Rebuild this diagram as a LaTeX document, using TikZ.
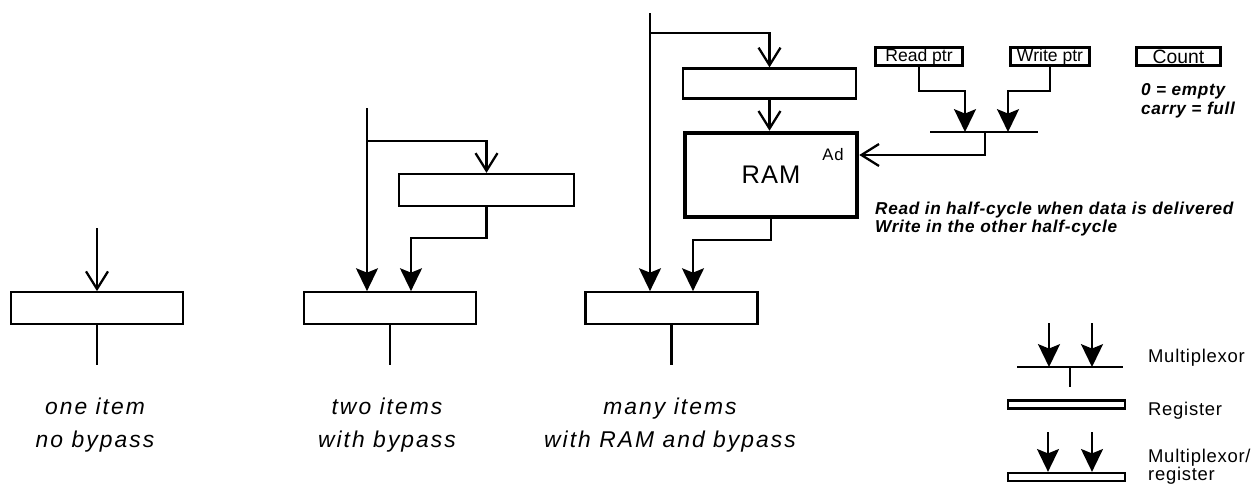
\documentclass[tikz,border=0pt]{standalone}
\usepackage{fontspec}
\setmainfont{Liberation Sans}
\newfontfamily\capfont[LetterSpace=9]{Liberation Sans}
\newfontfamily\labfont[LetterSpace=4]{Liberation Sans}
\usepackage{tikz}
\usetikzlibrary{arrows.meta,calc}

\begin{document}
\begin{tikzpicture}[x=0.02cm, y=-0.02cm, line width=1.3pt,
    every node/.style={font=\labfont},
    regbox/.style={draw, inner sep=0pt, minimum width=3.44cm, minimum height=0.63cm},
    rambox/.style={draw, line width=2.6pt, inner sep=0pt, minimum width=3.44cm, minimum height=1.68cm},
    ptrbox/.style={draw, inner sep=0pt, minimum height=0.36cm, font=\rmfamily\fontsize{10}{12}\selectfont},
    legbox/.style={draw, inner sep=0pt, minimum width=2.34cm, minimum height=0.16cm},
    openarr/.style={-{Straight Barb[length=10pt,width=12.5pt]}},
    fillarr/.style={-{Stealth[length=13pt,width=12.5pt,inset=2.5pt]}},
    caption/.style={align=center, font=\capfont\itshape\fontsize{13}{18.8}\selectfont},
    note/.style={align=left, anchor=west, inner sep=0pt, font=\labfont\bfseries\itshape\fontsize{9.8}{10.6}\selectfont},
    legtext/.style={align=left, anchor=west, inner sep=0pt, font=\labfont\fontsize{10.5}{10.4}\selectfont}]

    % Page frame (pixel units of the reference)
    \useasboundingbox (0,0) rectangle (1254,487);

    % ---- One item, no bypass ----
    \node[regbox] (reg1) at (97,308) {};
    \coordinate (in1)  at (97,228);
    \coordinate (out1) at (97,365);
    \draw[openarr] (in1) -- (reg1.north);
    \draw (reg1.south) -- (out1);

    % ---- Two items, with bypass ----
    \node[regbox] (reg2) at (390,308) {};
    \node[regbox, minimum width=3.5cm, minimum height=0.64cm] (reg2top) at (486.5,190) {};
    \coordinate (in2)  at (367,108);
    \coordinate (tap2) at (367,141);
    \coordinate (out2) at (390,365);
    % bypass straight down, and copy into the upper register
    \draw[fillarr] (in2) -- (in2 |- reg2.north);
    \draw[openarr] (tap2) -| (reg2top.north);
    % upper register feeds the lower one
    \draw[fillarr] (reg2top.south) -- ++(0,31) -| ($(reg2.north)+(21,0)$);
    \draw (reg2.south) -- (out2);

    % ---- Many items, with RAM and bypass ----
    \node[regbox] (reg3) at (671.5,308) {};
    \node[regbox, minimum width=3.46cm, minimum height=0.6cm] (reg3top) at (769.5,83.5) {};
    \node[rambox, font=\labfont\fontsize{14.5}{16}\selectfont] (ram) at (771,175) {RAM};
    \node[font=\labfont\fontsize{9.5}{11}\selectfont] (adlab) at (833,155) {Ad};
    \coordinate (in3)  at (650,13);
    \coordinate (tap3) at (650,33);
    \coordinate (out3) at (671.5,365);
    \draw[fillarr] (in3) -- (in3 |- reg3.north);
    \draw[openarr] (tap3) -| (reg3top.north);
    \draw[openarr] (reg3top.south) -- (reg3top.south |- ram.north);
    \draw[fillarr] (ram.south) -- ++(0,21) -| ($(reg3.north)+(21.5,0)$);
    \draw (reg3.south) -- (out3);

    % ---- Pointers and count ----
    \node[ptrbox, minimum width=1.74cm] (rdptr) at (919,56.5) {Read ptr};
    \node[ptrbox, minimum width=1.58cm] (wrptr) at (1050,56.5) {Write ptr};
    \node[ptrbox, minimum width=1.68cm, font=\rmfamily\fontsize{11}{12}\selectfont] (count) at (1178.5,56.5) {Count};
    \node[note] (cntnote) at (1140,101) {0 = empty\\carry = full};

    % address multiplexor
    \coordinate (muxL) at (930,132);
    \coordinate (muxR) at (1038,132);
    \coordinate (muxA) at (965,132);
    \coordinate (muxB) at (1008,132);
    \coordinate (muxO) at (985,132);
    \draw (muxL) -- (muxR);
    \draw[fillarr] (rdptr.south) -- ++(0,24) -| (muxA);
    \draw[fillarr] (wrptr.south) -- ++(0,24) -| (muxB);
    \draw[openarr] (muxO) |- ($(ram.east)+(0,-20)$);

    \node[note] (ramnote) at (874,219) {Read in half-cycle when data is delivered\\Write in the other half-cycle};

    % ---- Captions ----
    \node[caption] (cap1) at (95,425) {one item\\no bypass};
    \node[caption] (cap2) at (387,425) {two items\\with bypass};
    \node[caption] (cap3) at (670,425) {many items\\with RAM and bypass};

    % ---- Legend ----
    % multiplexor
    \coordinate (lgmuxL) at (1017,367);
    \coordinate (lgmuxR) at (1123,367);
    \coordinate (lgin1)  at (1049,323);
    \coordinate (lgin2)  at (1092,323);
    \coordinate (lgout)  at (1070,367);
    \draw (lgmuxL) -- (lgmuxR);
    \draw[fillarr] (lgin1) -- (lgin1 |- lgmuxL);
    \draw[fillarr] (lgin2) -- (lgin2 |- lgmuxL);
    \draw (lgout) -- ++(0,20);
    \node[legtext] (lgmuxlab) at (1147,358) {Multiplexor};
    % register
    \node[legtext] (lgreglab) at (1147,411) {Register};
    \node[legbox] (lgreg) at (1066.5,404.5) {};
    % multiplexor / register
    \node[legbox] (lgmreg) at (1066.5,477) {};
    \coordinate (lgin3) at (1048,432);
    \coordinate (lgin4) at (1092,432);
    \draw[fillarr] (lgin3) -- (lgin3 |- lgmreg.north);
    \draw[fillarr] (lgin4) -- (lgin4 |- lgmreg.north);
    \node[legtext] (lgmreglab) at (1147,466.5) {Multiplexor/\\register};

\end{tikzpicture}
\end{document}
